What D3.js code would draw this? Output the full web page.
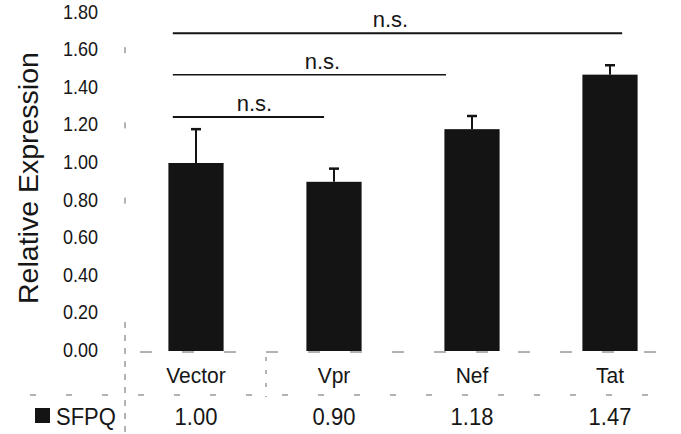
<!DOCTYPE html>
<html>
<head>
<script src="https://d3js.org/d3.v7.min.js"></script>
<style>
  body { margin: 0; background: #fff; }
  svg { display: block; font-family: "Liberation Sans", Arial, sans-serif; }
</style>
</head>
<body>
<svg id="chart" width="681" height="434"></svg>
<script>
  // data
  let categories = ['Vector', 'Vpr', 'Nef', 'Tat'];
  let values = [1.00, 0.90, 1.18, 1.47];
  let errors = [0.18, 0.07, 0.07, 0.05];
  let valueLabels = ['1.00', '0.90', '1.18', '1.47'];
  let yTicks = [0, 0.2, 0.4, 0.6, 0.8, 1.0, 1.2, 1.4, 1.6, 1.8];
  let seriesName = 'SFPQ';

  // significance brackets: from / to category, height in data units
  let brackets = [
    {from: 'Vector', to: 'Vpr', level: 1.245, label: 'n.s.'},
    {from: 'Vector', to: 'Nef', level: 1.47, label: 'n.s.'},
    {from: 'Vector', to: 'Tat', level: 1.69, label: 'n.s.'}
  ];
  let bracketEnd = [0.32, 0.03, 0.72];   // where each line stops inside its bar
  let labelShift = [6, 13, -7];

  let svg = d3.select('#chart');
  let ink = '#161616';

  let x = d3.scaleBand().domain(categories).range([127, 679])
    .paddingInner(0.6).paddingOuter(0.3);
  let y = d3.scaleLinear().domain([0, 1.8]).range([351, 12.6]);
  let bw = x.bandwidth();

  // y tick labels (no visible axis line)
  svg.append('g')
    .selectAll('text')
    .data(yTicks)
    .enter()
    .append('text')
    .attr('transform', d => `translate(98, ${y(d) + 6}) scale(1, 1.08)`)
    .attr('text-anchor', 'end')
    .attr('font-size', 18)
    .attr('fill', ink)
    .text(d => d3.format('.2f')(d));

  svg.append('text')
    .attr('transform', `translate(38, ${y(0.92)}) rotate(-90)`)
    .attr('text-anchor', 'middle')
    .attr('font-size', 28.5)
    .attr('fill', ink)
    .text('Relative Expression');

  // faint remains of the axis / table grid
  let faint = svg.append('g')
    .attr('stroke', '#666')
    .attr('stroke-width', 1)
    .attr('fill', 'none');
  faint.append('line')
    .attr('x1', 140).attr('x2', 665).attr('y1', y(0) + 1).attr('y2', y(0) + 1)
    .attr('stroke-dasharray', '12,30');
  faint.append('line')
    .attr('x1', 30).attr('x2', 672).attr('y1', 395).attr('y2', 395)
    .attr('stroke-dasharray', '6,30');
  faint.append('line')
    .attr('x1', 125).attr('x2', 125).attr('y1', 322).attr('y2', 434)
    .attr('stroke-dasharray', '6,7');
  faint.append('line')
    .attr('x1', 266).attr('x2', 266).attr('y1', 357).attr('y2', 397)
    .attr('stroke-dasharray', '4,9');
  faint.selectAll('.tick')
    .data([1.6, 1.2, 0.8])
    .enter()
    .append('line')
    .attr('x1', 125).attr('x2', 125)
    .attr('y1', d => y(d) - 3).attr('y2', d => y(d) + 3);

  // bars
  let rows = categories.map((c, i) => ({cat: c, value: values[i], err: errors[i], label: valueLabels[i]}));

  svg.append('g')
    .selectAll('rect')
    .data(rows)
    .enter()
    .append('rect')
    .attr('x', d => x(d.cat))
    .attr('y', d => y(d.value))
    .attr('width', bw)
    .attr('height', d => y(0) - y(d.value))
    .attr('fill', '#141414');

  // error bars (upper only)
  let eb = svg.append('g').attr('stroke', '#141414');
  eb.selectAll('.stem')
    .data(rows)
    .enter()
    .append('line')
    .attr('x1', d => x(d.cat) + bw / 2)
    .attr('x2', d => x(d.cat) + bw / 2)
    .attr('y1', d => y(d.value))
    .attr('y2', d => y(d.value + d.err))
    .attr('stroke-width', 2);
  eb.selectAll('.cap')
    .data(rows)
    .enter()
    .append('line')
    .attr('x1', d => x(d.cat) + bw / 2 - 5)
    .attr('x2', d => x(d.cat) + bw / 2 + 5)
    .attr('y1', d => y(d.value + d.err))
    .attr('y2', d => y(d.value + d.err))
    .attr('stroke-width', 2.5);

  // significance lines
  let br = svg.append('g')
    .selectAll('g')
    .data(brackets)
    .enter()
    .append('g');
  br.append('line')
    .attr('x1', d => x(d.from) + bw * 0.08)
    .attr('x2', (d, i) => x(d.to) + bw * bracketEnd[i])
    .attr('y1', d => y(d.level))
    .attr('y2', d => y(d.level))
    .attr('stroke', '#141414')
    .attr('stroke-width', (d, i) => i == 1 ? 1.5 : 2);
  br.append('text')
    .attr('x', (d, i) => (x(d.from) + bw * 0.08 + x(d.to) + bw * bracketEnd[i]) / 2 + labelShift[i])
    .attr('y', d => y(d.level) - 6)
    .attr('text-anchor', 'middle')
    .attr('font-size', 22)
    .attr('fill', ink)
    .text(d => d.label);

  // data table under the chart
  svg.append('g')
    .selectAll('text')
    .data(rows)
    .enter()
    .append('text')
    .attr('transform', d => `translate(${x(d.cat) + bw / 2}, 383) scale(1, 1.08)`)
    .attr('text-anchor', 'middle')
    .attr('font-size', 21)
    .attr('fill', ink)
    .text(d => d.cat);

  svg.append('g')
    .selectAll('text')
    .data(rows)
    .enter()
    .append('text')
    .attr('transform', d => `translate(${x(d.cat) + bw / 2}, 425) scale(1, 1.12)`)
    .attr('text-anchor', 'middle')
    .attr('font-size', 22)
    .attr('fill', ink)
    .text(d => d.label);

  svg.append('rect')
    .attr('x', 35).attr('y', 408)
    .attr('width', 15).attr('height', 15)
    .attr('fill', '#141414');
  svg.append('text')
    .attr('transform', 'translate(56, 425) scale(1, 1.12)')
    .attr('font-size', 22)
    .attr('fill', ink)
    .text(seriesName);
</script>
</body>
</html>
